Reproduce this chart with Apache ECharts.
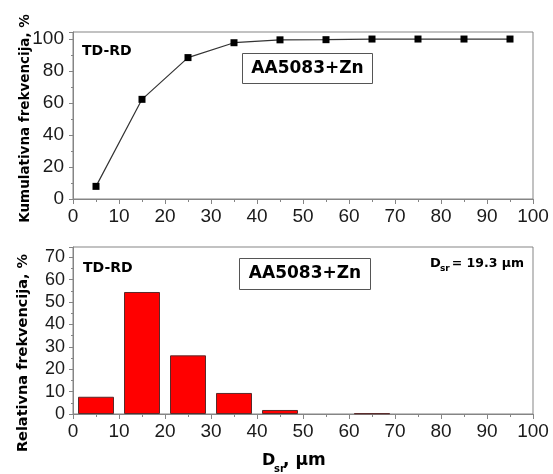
<!DOCTYPE html>
<html>
<head>
<meta charset="utf-8">
<script src="https://cdn.jsdelivr.net/npm/echarts@6/dist/echarts.min.js"></script>
<style>html,body{margin:0;padding:0;background:#fff;}#c{width:553px;height:474px;}</style>
</head>
<body>
<div id="c"></div>
<script>
// ---- data ----
const binCenters = [5, 15, 25, 35, 45, 55, 65, 75, 85, 95];
const cumulative = [7.9, 62.3, 88.4, 97.7, 99.5, 99.6, 100, 100, 100, 100];
const relative = [7.7, 54.5, 26.2, 9.4, 1.8, 0, 0.3, 0, 0, 0];
const xTicks = [0, 10, 20, 30, 40, 50, 60, 70, 80, 90, 100];
const topYTicks = [0, 20, 40, 60, 80, 100];
const botYTicks = [0, 10, 20, 30, 40, 50, 60, 70];
const sampleLabel = 'AA5083+Zn';
const directionLabel = 'TD-RD';
const meanLabel = '= 19.3 µm';

const AX = '#858585';
const TXT = '#1a1a1a';
const TICKFONT = 'Liberation Sans';
const BOLD = 'DejaVu Sans';

const chart = echarts.init(document.getElementById('c'), null, {renderer: 'canvas'});

function xAxisBase(grid) {
  return {
    type: 'value', gridIndex: grid, min: 0, max: 100, interval: 10,
    axisLine: {show: true, onZero: false, lineStyle: {color: AX, width: 1}},
    axisTick: {show: true, inside: false, length: 5, lineStyle: {color: AX}},
    minorTick: {show: true, splitNumber: 2, length: 3, lineStyle: {color: AX}},
    splitLine: {show: false},
    axisLabel: {show: true, color: TXT, fontFamily: TICKFONT, fontSize: 19, margin: 8,
      formatter: v => xTicks.includes(v) ? String(v) : ''}
  };
}

const option = {
  animation: false,
  backgroundColor: '#fff',
  grid: [
    {left: 73, top: 32, width: 460, height: 167, show: true, borderColor: AX, borderWidth: 1, backgroundColor: 'transparent'},
    {left: 73, top: 247, width: 460, height: 167, show: true, borderColor: AX, borderWidth: 1, backgroundColor: 'transparent'}
  ],
  xAxis: [
    xAxisBase(0),
    xAxisBase(1),
    {
      type: 'value', gridIndex: 0, position: 'top', min: 0, max: 100, interval: 10,
      axisLine: {show: true, lineStyle: {color: AX}},
      axisTick: {show: true, inside: true, length: 4, lineStyle: {color: AX}},
      minorTick: {show: true, splitNumber: 2, length: 3, lineStyle: {color: AX}},
      axisLabel: {show: false}, splitLine: {show: false}
    }
  ],
  yAxis: [
    {
      type: 'value', gridIndex: 0, min: 0, max: 104.4, interval: 20,
      axisLine: {show: true, onZero: false, lineStyle: {color: AX}},
      axisTick: {show: true, inside: false, length: 4, lineStyle: {color: AX}},
      minorTick: {show: true, splitNumber: 2, length: 2, lineStyle: {color: AX}},
      splitLine: {show: false},
      axisLabel: {color: TXT, fontFamily: TICKFONT, fontSize: 19, margin: 9,
        formatter: v => topYTicks.includes(v) ? String(v) : ''}
    },
    {
      type: 'value', gridIndex: 1, min: 0, max: 74.6, interval: 10,
      axisLine: {show: true, onZero: false, lineStyle: {color: AX}},
      axisTick: {show: true, inside: false, length: 4, lineStyle: {color: AX}},
      minorTick: {show: true, splitNumber: 2, length: 2, lineStyle: {color: AX}},
      splitLine: {show: false},
      axisLabel: {color: TXT, fontFamily: TICKFONT, fontSize: 18, margin: 8,
        formatter: v => botYTicks.includes(v) ? String(v) : ''}
    }
  ],
  series: [
    {
      type: 'line', xAxisIndex: 0, yAxisIndex: 0,
      data: binCenters.map((x, i) => [x, cumulative[i]]),
      symbol: 'rect', symbolSize: 7,
      lineStyle: {color: '#333', width: 1.2},
      itemStyle: {color: '#000'},
      z: 5
    },
    {
      type: 'bar', xAxisIndex: 1, yAxisIndex: 1,
      data: binCenters.map((x, i) => [x, relative[i]]).filter(d => d[1] > 0),
      barWidth: 36,
      itemStyle: {color: '#ff0000', borderColor: '#5a2a2a', borderWidth: 1}
    }
  ],
  graphic: [
    // top panel annotations
    {type: 'text', x: 82, y: 51.5, style: {text: directionLabel, fontFamily: BOLD, fontWeight: 'bold', fontSize: 14, fill: '#000', textAlign: 'left', textVerticalAlign: 'middle', verticalAlign: 'middle'}},
    {type: 'rect', shape: {x: 242.5, y: 53.5, width: 130, height: 30}, style: {fill: '#fff', stroke: '#555', lineWidth: 1}},
    {type: 'text', x: 307.5, y: 68.5, style: {text: sampleLabel, fontFamily: BOLD, fontWeight: 'bold', fontSize: 17, fill: '#000', textAlign: 'center', textVerticalAlign: 'middle', verticalAlign: 'middle'}},
    // bottom panel annotations
    {type: 'text', x: 83, y: 268, style: {text: directionLabel, fontFamily: BOLD, fontWeight: 'bold', fontSize: 14, fill: '#000', textAlign: 'left', textVerticalAlign: 'middle', verticalAlign: 'middle'}},
    {type: 'rect', shape: {x: 239.5, y: 258.5, width: 131, height: 31}, style: {fill: '#fff', stroke: '#555', lineWidth: 1}},
    {type: 'text', x: 305, y: 274, style: {text: sampleLabel, fontFamily: BOLD, fontWeight: 'bold', fontSize: 17, fill: '#000', textAlign: 'center', textVerticalAlign: 'middle', verticalAlign: 'middle'}},
    {type: 'text', x: 430, y: 264, style: {text: 'D', fontFamily: BOLD, fontWeight: 'bold', fontSize: 13, fill: '#000', textAlign: 'left', textVerticalAlign: 'middle', verticalAlign: 'middle'}},
    {type: 'text', x: 440, y: 268.5, style: {text: 'sr', fontFamily: BOLD, fontWeight: 'bold', fontSize: 9, fill: '#000', textAlign: 'left', textVerticalAlign: 'middle', verticalAlign: 'middle'}},
    {type: 'text', x: 524, y: 264, style: {text: meanLabel, fontFamily: BOLD, fontWeight: 'bold', fontSize: 12.5, fill: '#000', textAlign: 'right', textVerticalAlign: 'middle', verticalAlign: 'middle'}},
    // axis titles
    {type: 'text', x: 25, y: 118.5, rotation: Math.PI / 2, style: {text: 'Kumulativna frekvencija, %', fontFamily: BOLD, fontWeight: 'bold', fontSize: 13.5, fill: '#000', textAlign: 'center', textVerticalAlign: 'middle', verticalAlign: 'middle'}},
    {type: 'text', x: 23.5, y: 353, rotation: Math.PI / 2, style: {text: 'Relativna frekvencija, %', fontFamily: BOLD, fontWeight: 'bold', fontSize: 14.5, fill: '#000', textAlign: 'center', textVerticalAlign: 'middle', verticalAlign: 'middle'}},
    {type: 'text', x: 262, y: 460.5, style: {text: 'D', fontFamily: BOLD, fontWeight: 'bold', fontSize: 16, fill: '#000', textAlign: 'left', textVerticalAlign: 'middle', verticalAlign: 'middle'}},
    {type: 'text', x: 274, y: 469, style: {text: 'sr', fontFamily: BOLD, fontWeight: 'bold', fontSize: 10, fill: '#000', textAlign: 'left', textVerticalAlign: 'middle', verticalAlign: 'middle'}},
    {type: 'text', x: 283, y: 461, style: {text: ', µm', fontFamily: BOLD, fontWeight: 'bold', fontSize: 17, fill: '#000', textAlign: 'left', textVerticalAlign: 'middle', verticalAlign: 'middle'}}
  ]
};
chart.setOption(option);
</script>
</body>
</html>
